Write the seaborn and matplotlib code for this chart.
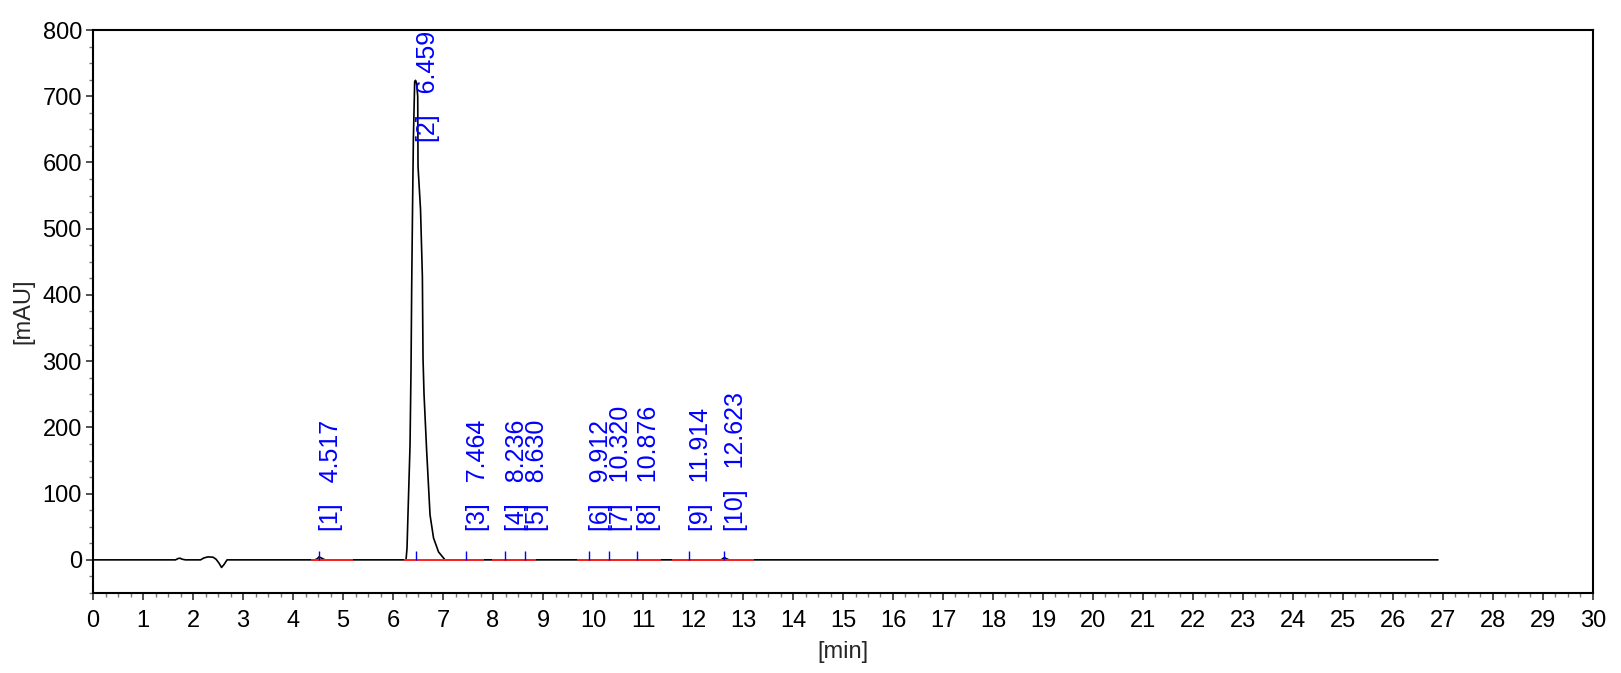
import numpy as np
import pandas as pd
import matplotlib
matplotlib.use("Agg")
import matplotlib.pyplot as plt
import seaborn as sns
from matplotlib.ticker import MultipleLocator

# chromatogram trace (min, mAU)
trace_time = [0.0, 1.65, 1.70, 1.74, 1.78, 1.85, 2.15, 2.22, 2.30, 2.40, 2.46, 2.52,
              2.57, 2.62, 2.68, 4.44, 4.49, 4.52, 4.56, 4.64, 6.26, 6.28, 6.295, 6.34,
              6.36, 6.373, 6.39, 6.407, 6.433, 6.45, 6.47, 6.494, 6.50, 6.55, 6.587,
              6.60, 6.62, 6.673, 6.74, 6.81, 6.91, 7.04, 12.56, 12.60, 12.63, 12.66,
              12.72, 26.9]
trace_mau = [0.0, 0.0, 2.0, 2.5, 1.0, 0.0, 0.0, 3.0, 4.5, 4.0, 1.0, -5.0,
             -11.5, -7.0, 0.0, 0.0, 2.0, 4.5, 3.0, 0.0, 0.0, 18.0, 58.0, 173.0,
             289.0, 410.0, 529.0, 635.0, 722.0, 724.0, 720.0, 700.0, 594.0, 529.0, 428.0,
             304.0, 250.0, 164.0, 68.0, 33.0, 12.0, 0.0, 0.0, 2.0, 3.5, 2.0,
             0.0, 0.0]

# integrated peaks
peak_no = [1, 2, 3, 4, 5, 6, 7, 8, 9, 10]
peak_rt = [4.517, 6.459, 7.464, 8.236, 8.630, 9.912, 10.320, 10.876, 11.914, 12.623]

# baseline segments (start, end) in min
base_start = [4.36, 6.21, 7.97, 9.68, 11.57]
base_end = [5.19, 7.82, 8.85, 11.36, 13.22]

df = pd.DataFrame({"time": trace_time, "mau": trace_mau})

sns.set_theme(style="ticks")
plt.rcParams["font.family"] = ["Liberation Sans", "DejaVu Sans"]

fig, ax = plt.subplots(figsize=(16.21, 6.73), dpi=100)
fig.subplots_adjust(left=0.0574, right=0.9827, bottom=0.1189, top=0.9554)

sns.lineplot(data=df, x="time", y="mau", ax=ax, color="black", lw=1.2,
             estimator=None, sort=False, zorder=3)

ax.hlines([0] * len(base_start), base_start, base_end, color="#ff2020", lw=1.4, zorder=4)
ax.vlines(peak_rt, 0, 14, color="#0000ff", lw=1.0, zorder=5)

for n, rt in zip(peak_no, peak_rt):
    label = f"[{n}]   {rt:.3f}"
    if n == 2:
        ax.text(rt, 798, label, rotation=90, ha="left", va="top", color="#0000ff",
                fontsize=18, zorder=6)
    else:
        ax.text(rt, 44, label, rotation=90, ha="left", va="bottom", color="#0000ff",
                fontsize=18, zorder=6)

ax.set_xlim(0, 30)
ax.set_ylim(-50, 800)
ax.set_xticks(range(0, 31))
ax.set_yticks(range(0, 801, 100))
ax.xaxis.set_minor_locator(MultipleLocator(0.25))
ax.yaxis.set_minor_locator(MultipleLocator(25))
ax.tick_params(which="major", direction="out", length=5, width=1.2, color="#333333",
               labelsize=17, labelcolor="black")
ax.tick_params(axis="x", which="major", pad=7)
ax.tick_params(axis="y", which="major", pad=3)
ax.tick_params(which="minor", direction="out", length=3, width=1.0, color="#777777")

for s in ax.spines.values():
    s.set_visible(True)
    s.set_color("black")
    s.set_linewidth(1.5)

ax.set_xlabel("[min]", fontsize=17, labelpad=7)
ax.set_ylabel("[mAU]", fontsize=17, labelpad=6)

fig.savefig("out.png", dpi=100)
